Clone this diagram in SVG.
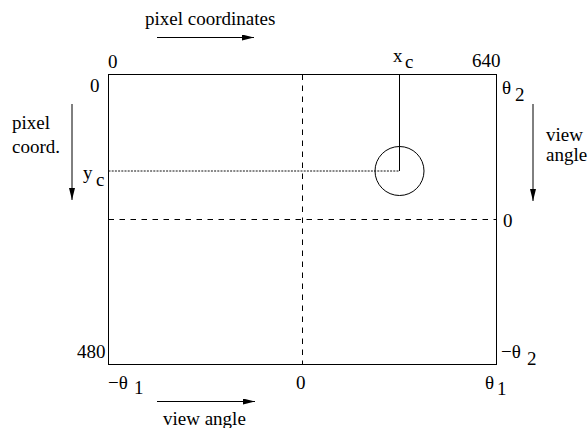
<svg xmlns="http://www.w3.org/2000/svg" width="588" height="428" viewBox="0 0 588 428">
<style>
text { font-family: "Liberation Serif", "Times New Roman", serif; font-size: 19px; fill: #000; }
.ln { stroke: #000; stroke-width: 1; fill: none; }
.dash { stroke: #000; stroke-width: 1; fill: none; stroke-dasharray: 5.5 5.5; }
.dot { stroke: #111; stroke-width: 1; fill: none; stroke-dasharray: 2 1.2; }
.arr { stroke: #000; stroke-width: 1; fill: none; marker-end: url(#ah); }
</style>
<defs>
<marker id="ah" viewBox="0 0 12 6" refX="12" refY="3" markerWidth="12" markerHeight="6" markerUnits="userSpaceOnUse" orient="auto">
<path d="M0,0 L12,3 L0,6 Z" fill="#000"/>
</marker>
</defs>
<rect width="588" height="428" fill="#fff"/>
<g id="frame">
<rect class="ln" x="108.5" y="74.5" width="388" height="290"/>
</g>
<g id="connectors">
<line class="dash" x1="302.5" y1="74.5" x2="302.5" y2="364.5"/>
<line class="dash" x1="108.5" y1="219.5" x2="496.5" y2="219.5"/>
<line class="dot" x1="108.5" y1="171" x2="399.5" y2="171"/>
<line class="ln" x1="399.5" y1="74.5" x2="399.5" y2="171"/>
<line class="arr" x1="157" y1="37.5" x2="254" y2="37.5"/>
<line class="arr" x1="157" y1="401.5" x2="255" y2="401.5"/>
<line class="arr" x1="72" y1="104" x2="72" y2="200"/>
<line class="arr" x1="533" y1="104" x2="533" y2="201"/>
</g>
<g id="target">
<circle class="ln" cx="399.5" cy="171" r="24.5"/>
</g>
<g id="labels">
<text x="145" y="25">pixel coordinates</text>
<text x="108" y="68">0</text>
<text x="90" y="92">0</text>
<text x="472" y="67">640</text>
<text x="393" y="62">x</text>
<text x="405" y="68">c</text>
<text x="502" y="94">θ</text>
<text x="515" y="101">2</text>
<text x="546" y="141">view</text>
<text x="546" y="161">angle</text>
<text x="503" y="227">0</text>
<text x="12" y="129">pixel</text>
<text x="12" y="153">coord.</text>
<text x="83" y="179">y</text>
<text x="96" y="186">c</text>
<text x="77" y="358">480</text>
<text x="501" y="358">−θ</text>
<text x="527" y="365">2</text>
<text x="108" y="389">−θ</text>
<text x="134" y="394">1</text>
<text x="296" y="389">0</text>
<text x="485" y="389">θ</text>
<text x="497" y="395">1</text>
<text x="163" y="425">view angle</text>
</g>
</svg>
